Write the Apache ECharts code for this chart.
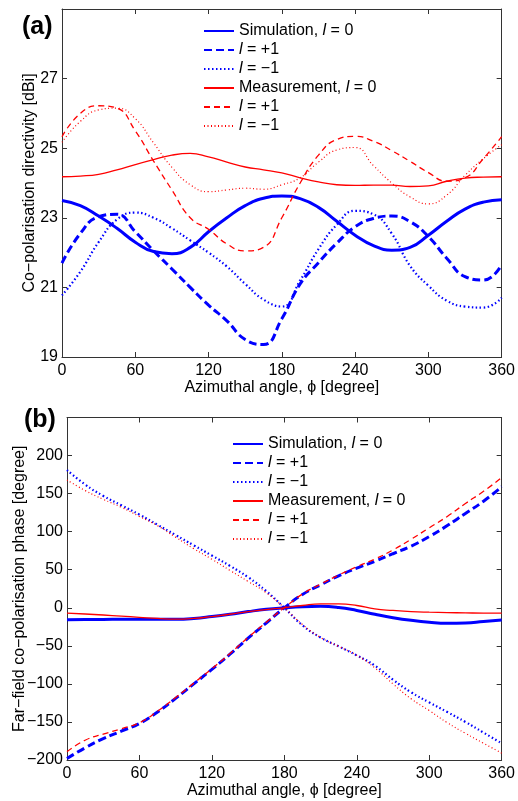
<!DOCTYPE html>
<html>
<head>
<meta charset="utf-8">
<script src="https://cdn.jsdelivr.net/npm/echarts@6/dist/echarts.min.js"></script>
<style>
  html, body { margin: 0; padding: 0; background: #fff; }
  #chart { width: 518px; height: 801px; }
</style>
</head>
<body>
<div id="chart"></div>
<script>
// azimuth samples (degree)
var phi = [0, 15, 30, 45, 60, 75, 90, 105, 120, 135, 150, 165, 180, 195, 210, 225, 240, 255, 270, 285, 300, 315, 330, 345, 360];

// (a) co-polarisation directivity [dBi]
var simA0  = [23.5, 23.35, 23.05, 22.7, 22.3, 22.03, 21.97, 22.15, 22.6, 23.0, 23.35, 23.56, 23.63, 23.55, 23.3, 22.9, 22.5, 22.2, 22.07, 22.15, 22.5, 22.9, 23.25, 23.45, 23.52];
var simAp1 = [21.7, 22.55, 23.03, 23.1, 22.6, 22.05, 21.53, 21.0, 20.49, 20.04, 19.5, 19.36, 20.1, 21.1, 21.71, 22.27, 22.74, 22.98, 23.05, 22.89, 22.46, 21.84, 21.31, 21.21, 21.65];
var simAm1 = [20.77, 21.45, 22.3, 22.95, 23.15, 23.0, 22.7, 22.35, 22.0, 21.6, 21.1, 20.65, 20.45, 21.2, 22.1, 22.8, 23.2, 23.1, 22.55, 21.62, 21.05, 20.62, 20.45, 20.42, 20.7];
var measA0  = [24.18, 24.2, 24.25, 24.38, 24.53, 24.67, 24.8, 24.85, 24.75, 24.6, 24.46, 24.38, 24.29, 24.15, 24.03, 23.95, 23.93, 23.94, 23.94, 23.9, 23.92, 24.05, 24.14, 24.17, 24.18];
var measAp1 = [25.33, 26.0, 26.22, 26.15, 25.5, 24.63, 23.8, 23.0, 22.67, 22.25, 22.05, 22.15, 23.0, 24.0, 24.8, 25.25, 25.34, 25.2, 24.93, 24.62, 24.3, 24.05, 24.15, 24.7, 25.33];
var measAm1 = [25.17, 25.77, 26.1, 26.15, 25.85, 25.15, 24.45, 23.95, 23.75, 23.8, 23.85, 23.82, 23.95, 24.15, 24.6, 24.95, 25.02, 24.5, 24.0, 23.6, 23.4, 23.65, 24.22, 24.7, 25.1];

// (b) far-field co-polarisation phase [degree]
var simB0  = [-15.8, -15.5, -15.3, -15.1, -15, -15, -15, -14, -11.5, -8.5, -5, -2, 0, 1.5, 2, 0.5, -3.5, -8.5, -13, -16.5, -19, -20.3, -20, -18, -16];
var simBp1 = [-198, -184, -172, -162, -152, -137, -119, -100, -81, -61, -40, -20, 0, 17.5, 30, 42, 52, 61, 71, 81, 93.5, 108, 124, 140, 159];
var simBm1 = [181, 162, 147, 134.7, 122.4, 109, 95.6, 82, 68.6, 55, 40.2, 22, 0, -23, -39, -50.7, -62.5, -76, -94.5, -111, -124.3, -137, -150, -164, -178];
var measB0  = [-7, -8.2, -9.5, -11, -12.5, -14, -15, -14, -11.5, -8.5, -5, -2.3, 0, 3, 5, 5, 3, -1.5, -3.5, -5, -5.8, -6.3, -6.7, -7, -7];
var measBp1 = [-189, -174, -166, -159, -151, -136, -118, -99, -80, -60, -39, -19, 0, 18, 31, 43, 54, 64, 76, 90, 105, 120, 137, 153, 171];
var measBm1 = [168, 154, 142.5, 132, 120, 107.8, 92.7, 77.7, 63.7, 49, 34.6, 19.7, 0, -22, -39, -50.7, -62.5, -79, -100, -119.6, -135, -151, -165, -178, -191];

var legendText = {
    'a0': 'Simulation, {i|l} = 0', 'ap': '{i|l} = +1', 'am': '{i|l} = \u22121',
    'A0': 'Measurement, {i|l} = 0', 'Ap': '{i|l} = +1', 'Am': '{i|l} = \u22121',
    'b0': 'Simulation, {i|l} = 0', 'bp': '{i|l} = +1', 'bm': '{i|l} = \u22121',
    'B0': 'Measurement, {i|l} = 0', 'Bp': '{i|l} = +1', 'Bm': '{i|l} = \u22121'
};

var FONT = 'Liberation Sans, Arial, sans-serif';
var BLUE = '#0000ff', RED = '#ff0000', AXIS = '#333';

function pairs(ys) {
    return phi.map(function (x, i) { return [x, ys[i]]; });
}
function minus(v) { return String(v).replace('-', '\u2212'); }

var styles = {
    simSolid:  { color: BLUE, width: 3, type: 'solid' },
    simDash:   { color: BLUE, width: 3, type: [8, 4] },
    simDot:    { color: BLUE, width: 2.2, type: [1.5, 2.5] },
    measSolid: { color: RED, width: 1.3, type: 'solid' },
    measDash:  { color: RED, width: 1.3, type: [6, 4] },
    measDot:   { color: RED, width: 1.2, type: [1, 2.5] }
};

function line(name, ys, st, xi, yi) {
    return {
        name: name, type: 'line', xAxisIndex: xi, yAxisIndex: yi,
        data: pairs(ys), symbol: 'none', smooth: 0.5,
        color: st.color,
        lineStyle: { color: st.color, width: st.width, type: st.type, cap: 'butt' },
        emphasis: { disabled: true }, silent: true, animation: false
    };
}

function xAxis(grid, pos, showName) {
    return {
        type: 'value', gridIndex: grid, position: pos, min: 0, max: 360, interval: 60,
        axisLine: { show: true, onZero: false, lineStyle: { color: AXIS, width: 1 } },
        axisTick: { show: true, inside: true, length: 5, lineStyle: { color: AXIS } },
        splitLine: { show: false },
        axisLabel: { show: pos === 'bottom', margin: 6, fontSize: 16, color: '#000', fontFamily: FONT },
        name: showName ? 'Azimuthal angle, \u03d5 [degree]' : '',
        nameLocation: 'middle', nameGap: grid === 0 ? 21 : 23,
        nameTextStyle: { fontSize: 16, color: '#000', fontFamily: FONT }
    };
}

function yAxis(grid, pos, min, max, interval, title, gap) {
    return {
        type: 'value', gridIndex: grid, position: pos, min: min, max: max, interval: interval,
        axisLine: { show: true, onZero: false, lineStyle: { color: AXIS, width: 1 } },
        axisTick: { show: true, inside: true, length: 5, lineStyle: { color: AXIS } },
        splitLine: { show: false },
        axisLabel: {
            show: pos === 'left', margin: 4, fontSize: 16, color: '#000', fontFamily: FONT,
            formatter: function (v) { return v === max ? '' : minus(v); }
        },
        name: title, nameLocation: 'middle', nameGap: gap, nameMoveOverlap: false,
        nameTextStyle: { fontSize: 16, color: '#000', fontFamily: FONT }
    };
}

function legend(left, top, names) {
    return {
        orient: 'vertical', left: left, top: top, padding: 0,
        itemWidth: 30, itemHeight: 14, itemGap: 3, selectedMode: false,
        itemStyle: { opacity: 0 },
        data: names,
        formatter: function (n) { return legendText[n]; },
        textStyle: {
            fontSize: 16, color: '#000', fontFamily: FONT,
            rich: { i: { fontStyle: 'italic', fontSize: 16, fontFamily: FONT, color: '#000' } }
        }
    };
}

var option = {
    backgroundColor: '#fff',
    animation: false,
    grid: [
        { left: 62, right: 15, top: 9, height: 348 },
        { left: 67, right: 15, top: 417.5, height: 342.5 }
    ],
    xAxis: [xAxis(0, 'bottom', true), xAxis(0, 'top', false), xAxis(1, 'bottom', true), xAxis(1, 'top', false)],
    yAxis: [
        yAxis(0, 'left', 19, 29, 2, 'Co\u2212polarisation directivity [dBi]', 24),
        yAxis(0, 'right', 19, 29, 2, '', 0),
        yAxis(1, 'left', -200, 250, 50, 'Far\u2212field co\u2212polarisation phase [degree]', 39),
        yAxis(1, 'right', -200, 250, 50, '', 0)
    ],
    legend: [
        legend(203, 23, ['a0', 'ap', 'am', 'A0', 'Ap', 'Am']),
        legend(232, 436, ['b0', 'bp', 'bm', 'B0', 'Bp', 'Bm'])
    ],
    graphic: [
        { type: 'text', left: 22, top: 15, style: { text: '(a)', font: 'bold 25px ' + FONT, fill: '#000' } },
        { type: 'text', left: 24, top: 408, style: { text: '(b)', font: 'bold 25px ' + FONT, fill: '#000' } }
    ],
    series: [
        line('a0', simA0, styles.simSolid, 0, 0),
        line('ap', simAp1, styles.simDash, 0, 0),
        line('am', simAm1, styles.simDot, 0, 0),
        line('A0', measA0, styles.measSolid, 0, 0),
        line('Ap', measAp1, styles.measDash, 0, 0),
        line('Am', measAm1, styles.measDot, 0, 0),
        line('b0', simB0, styles.simSolid, 2, 2),
        line('bp', simBp1, styles.simDash, 2, 2),
        line('bm', simBm1, styles.simDot, 2, 2),
        line('B0', measB0, styles.measSolid, 2, 2),
        line('Bp', measBp1, styles.measDash, 2, 2),
        line('Bm', measBm1, styles.measDot, 2, 2)
    ]
};

var chart = echarts.init(document.getElementById('chart'), null, { renderer: 'canvas' });
chart.setOption(option);
</script>
</body>
</html>
